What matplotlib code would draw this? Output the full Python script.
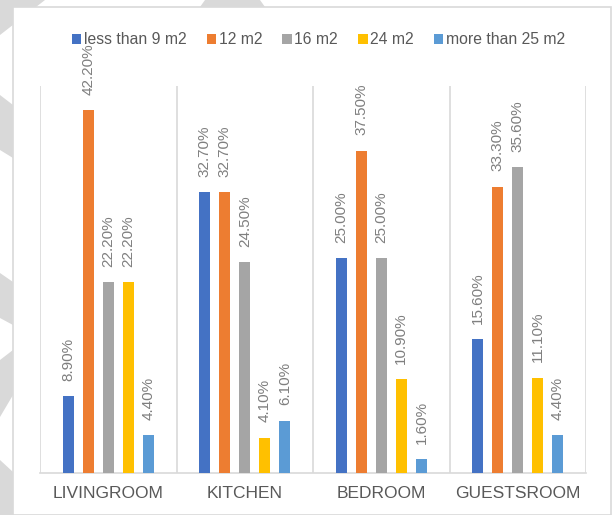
import matplotlib
matplotlib.use("Agg")
import matplotlib.pyplot as plt
import numpy as np
from matplotlib.patches import Rectangle, Polygon

categories = ["LIVINGROOM", "KITCHEN", "BEDROOM", "GUESTSROOM"]
series_names = ["less than 9 m2", "12 m2", "16 m2", "24 m2", "more than 25 m2"]
less_than_9 = [8.9, 32.7, 25.0, 15.6]
m2_12 = [42.2, 32.7, 37.5, 33.3]
m2_16 = [22.2, 24.5, 25.0, 35.6]
m2_24 = [22.2, 4.1, 10.9, 11.1]
more_than_25 = [4.4, 6.1, 1.6, 4.4]
series_values = [less_than_9, m2_12, m2_16, m2_24, more_than_25]
colors = ["#4472C4", "#ED7D31", "#A5A5A5", "#FFC000", "#5B9BD5"]

plt.rcParams['font.family'] = ['Liberation Sans', 'DejaVu Sans']

W, H = 616, 515
fig = plt.figure(figsize=(W / 100, H / 100), dpi=100)
fig.patch.set_facecolor("white")

def fp(pts):
    return [(x / W, 1 - y / H) for x, y in pts]

gray_bg = "#d9d9d9"
# decorative background chevrons (left and top strips)
shapes = [
    [(0, 0), (45, 0), (0, 35)],
    [(0, 95), (13, 105), (13, 158), (0, 150)],
    [(0, 273), (13, 282), (13, 325), (0, 318)],
    [(0, 360), (13, 350), (13, 395), (0, 417)],
    [(0, 460), (13, 472), (13, 515), (0, 515)],
    [(205, 0), (260, 0), (265, 7), (200, 7)],
]
for s in shapes:
    fig.patches.append(Polygon(fp(s), closed=True, transform=fig.transFigure,
                               facecolor=gray_bg, edgecolor="none", zorder=0))
fig.patches.append(Rectangle((13 / W, 0), (611 - 13) / W, 1 - 7 / H - 0,
                             transform=fig.transFigure, facecolor="white",
                             edgecolor="#d9d9d9", linewidth=1.2, zorder=1))

ax = fig.add_axes([40 / W, (H - 473) / H, (586 - 40) / W, (473 - 86) / H])
ax.set_facecolor("none")
ax.set_zorder(2)

x = np.arange(len(categories))
bw = 0.08
step = 0.147
for i, (name, vals, c) in enumerate(zip(series_names, series_values, colors)):
    pos = x + (i - 2) * step
    bars = ax.bar(pos, vals, width=bw, color=c, label=name, zorder=3)
    for b, v in zip(bars, vals):
        ax.annotate(f"{v:.2f}%", (b.get_x() + b.get_width() / 2, v),
                    xytext=(0, 11), textcoords="offset points",
                    rotation=90, ha="center", va="bottom",
                    fontsize=11, color="#7f7f7f")

ax.set_xlim(-0.5, len(categories) - 0.5)
ax.set_ylim(0, 45)
for xv in np.arange(-0.5, len(categories), 1.0):
    ax.axvline(xv, color="#d9d9d9", linewidth=1.2, zorder=1)
for sp in ["top", "right", "left"]:
    ax.spines[sp].set_visible(False)
ax.spines["bottom"].set_color("#d9d9d9")
ax.spines["bottom"].set_linewidth(1.2)
ax.set_yticks([])
ax.set_xticks(x)
ax.set_xticklabels(categories, fontsize=12.5, color="#595959")
ax.tick_params(axis="x", length=0, pad=9)

leg = fig.legend(loc="center", bbox_to_anchor=(0.517, 1 - 40 / H), ncol=5,
                 frameon=False, fontsize=11.3, handlelength=0.6,
                 handleheight=0.6, handletextpad=0.15, columnspacing=1.3,
                 labelcolor="#595959")

fig.savefig("out.png", dpi=100, facecolor=fig.get_facecolor())
